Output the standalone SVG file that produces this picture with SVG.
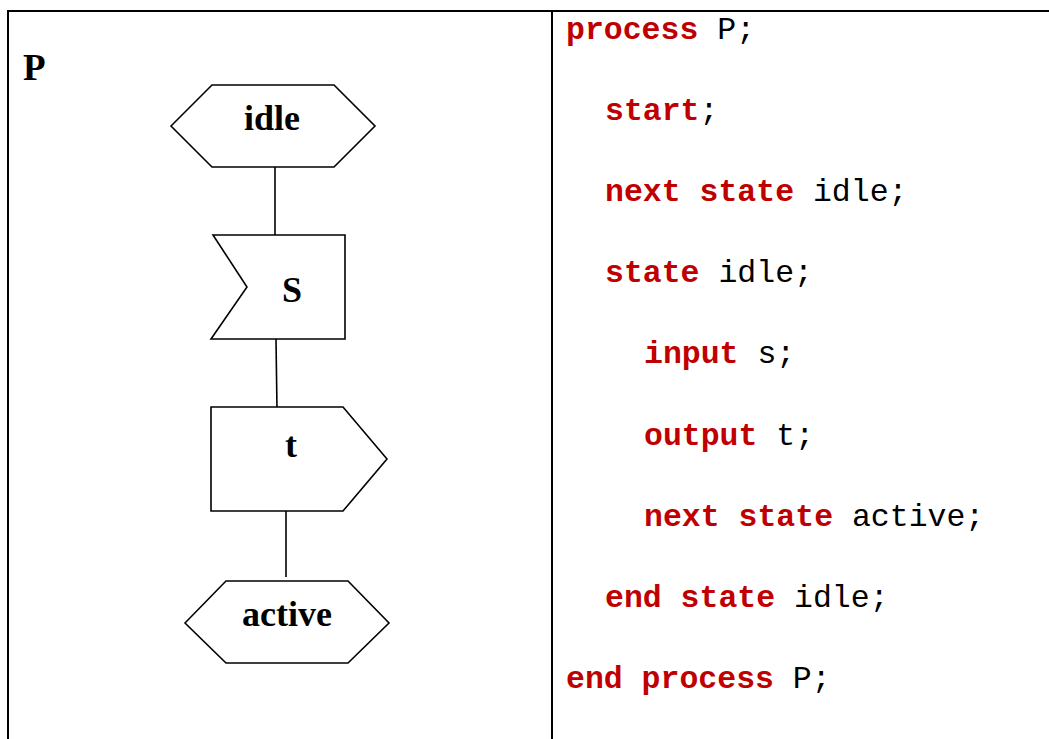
<svg xmlns="http://www.w3.org/2000/svg" width="1049" height="739" viewBox="0 0 1049 739">
<style>
.frame{stroke:#000;stroke-width:2;fill:none}
.shape{stroke:#000;stroke-width:1.6;fill:#fff;stroke-linejoin:miter}
.conn{stroke:#000;stroke-width:1.6;fill:none}
.lbl{font-family:"Liberation Serif","Times New Roman",serif;font-weight:bold;font-size:36px;fill:#000;text-anchor:middle}
.code{font-family:"Liberation Mono","Courier New",monospace;font-size:31.5px;fill:#000}
.kw{font-weight:bold;fill:#C00000}
</style>
<rect width="1049" height="739" fill="#fff"/>
<g id="frame">
<line class="frame" x1="7" y1="11" x2="1049" y2="11"/>
<line class="frame" x1="8" y1="10" x2="8" y2="739"/>
<line class="frame" x1="552" y1="10" x2="552" y2="739"/>
</g>
<text x="23" y="80" style="font-family:'Liberation Serif','Times New Roman',serif;font-weight:bold;font-size:37px">P</text>
<g id="connectors">
<line class="conn" x1="275" y1="167" x2="275" y2="235"/>
<line class="conn" x1="276" y1="339" x2="277" y2="410"/>
<line class="conn" x1="286" y1="509" x2="286" y2="577"/>
</g>
<g id="state-idle">
<polygon class="shape" points="171,126 212,85 334,85 375,126 334,167 212,167"/>
<text class="lbl" x="272" y="130">idle</text>
</g>
<g id="input-s">
<polygon class="shape" points="213,235 345,235 345,339 211,339 247,287"/>
<text class="lbl" x="292" y="302">S</text>
</g>
<g id="output-t">
<polygon class="shape" points="211,407 343,407 387,459 343,511 211,511"/>
<text class="lbl" x="291" y="457">t</text>
</g>
<g id="state-active">
<polygon class="shape" points="185,623 226,581 348,581 389,623 348,663 226,663"/>
<text class="lbl" x="287" y="626">active</text>
</g>
<g id="code">
<text class="code" x="566" y="39"><tspan class="kw">process</tspan> P;</text>
<text class="code" x="605" y="120"><tspan class="kw">start</tspan>;</text>
<text class="code" x="605" y="201"><tspan class="kw">next state</tspan> idle;</text>
<text class="code" x="605" y="282"><tspan class="kw">state</tspan> idle;</text>
<text class="code" x="644" y="363"><tspan class="kw">input</tspan> s;</text>
<text class="code" x="644" y="445"><tspan class="kw">output</tspan> t;</text>
<text class="code" x="644" y="526"><tspan class="kw">next state</tspan> active;</text>
<text class="code" x="605" y="607"><tspan class="kw">end state</tspan> idle;</text>
<text class="code" x="566" y="688"><tspan class="kw">end process</tspan> P;</text>
</g>
</svg>
